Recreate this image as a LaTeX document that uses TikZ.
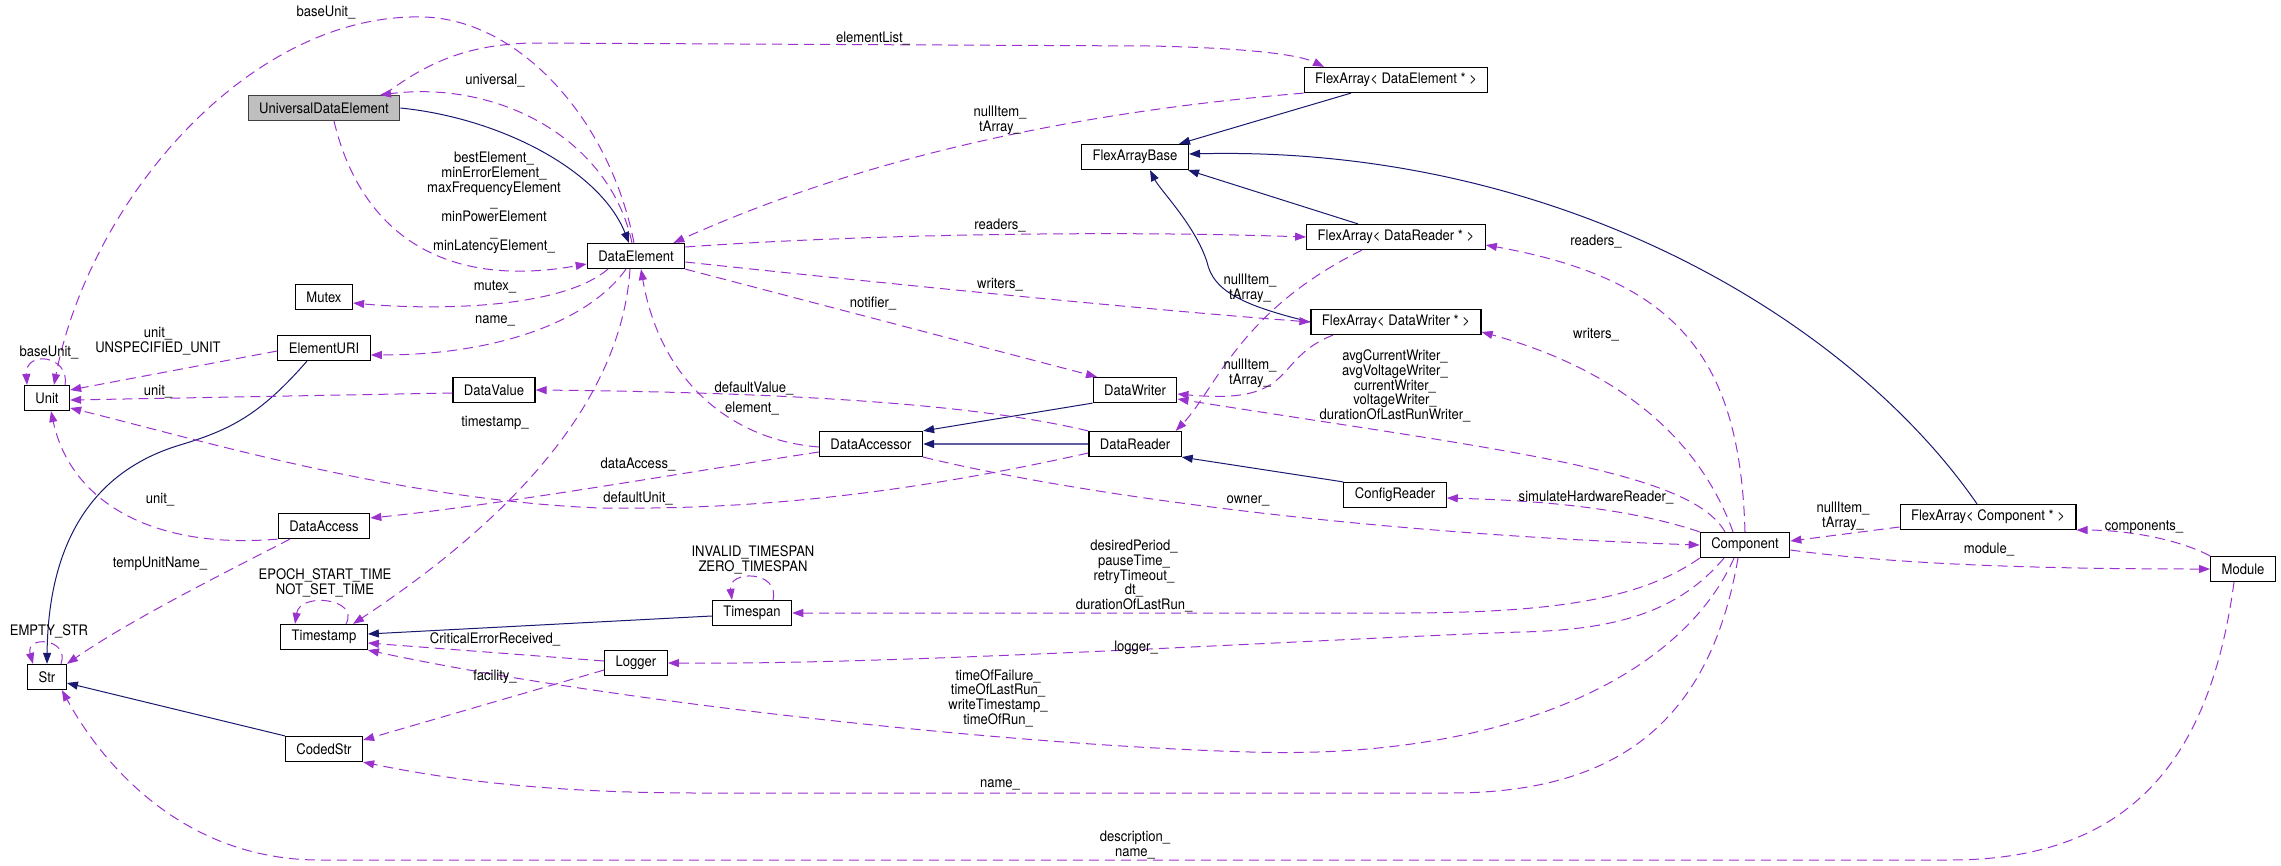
\documentclass[tikz,border=0pt]{standalone}
\usepackage{fontspec}
\setmainfont{TeX Gyre Heros}[FakeStretch=0.9]
\usetikzlibrary{arrows.meta}
\definecolor{navyedge}{HTML}{191970}
\definecolor{paleedge}{HTML}{5F5FA0}
\definecolor{orchidedge}{HTML}{9A32CD}
\definecolor{rootfill}{HTML}{BFBFBF}
\newcommand\dgfont{\fontsize{14.5pt}{14.7pt}\selectfont}
\tikzset{
  cls/.style={draw=black, line width=1.2pt, fill=white, minimum height=25pt, inner xsep=11pt, inner ysep=0pt, font=\dgfont},
  rootcls/.style={cls, fill=rootfill, draw=black!75},
  inherit/.style={draw=navyedge, line width=1pt, -{Triangle[length=11pt,width=8pt,color=navyedge]}},
  uses/.style={draw=orchidedge, line width=1pt, dash pattern=on 10pt off 6pt, -{Triangle[length=11pt,width=8pt]}},
  lbl/.style={font=\dgfont, align=center, inner sep=0pt}
}
\begin{document}
\begin{tikzpicture}[x=1pt, y=-1pt]
  \useasboundingbox (0,0) rectangle (2281,865);
  \node[rootcls] (ude) at (324,108) {UniversalDataElement};
  \node[cls] (dataElem) at (636,256) {DataElement};
  \node[cls] (mutex) at (324,297) {Mutex};
  \node[cls] (elemURI) at (324,348) {ElementURI};
  \node[cls] (unit) at (47,398) {Unit};
  \node[cls] (dataValue) at (494,390) {DataValue};
  \node[cls] (faBase) at (1135,157) {FlexArrayBase};
  \node[cls] (dataWriter) at (1135,390) {DataWriter};
  \node[cls] (dataAccessor) at (871,444) {DataAccessor};
  \node[cls] (dataReader) at (1135,444) {DataReader};
  \node[cls] (faElem) at (1396,80) {FlexArray< DataElement * >};
  \node[cls] (faReader) at (1396,237) {FlexArray< DataReader * >};
  \node[cls] (faWriter) at (1396,322) {FlexArray< DataWriter * >};
  \node[cls] (dataAccess) at (324,526) {DataAccess};
  \node[cls] (timestamp) at (324,637) {Timestamp};
  \node[cls] (str) at (47,677) {Str};
  \node[cls] (codedStr) at (324,749) {CodedStr};
  \node[cls] (logger) at (636,663) {Logger};
  \node[cls] (timespan) at (752,613) {Timespan};
  \node[cls] (configReader) at (1395,495) {ConfigReader};
  \node[cls] (component) at (1745,545) {Component};
  \node[cls] (faComp) at (1988,517) {FlexArray< Component * >};
  \node[cls] (module) at (2243,569) {Module};

  \draw[inherit] (ude.east) .. controls (500,118) and (600,170) .. ([xshift=-7pt]dataElem.north);
  \draw[inherit] ([xshift=-45pt]faElem.south) -- ([xshift=44pt]faBase.north);
  \draw[inherit] ([xshift=-38pt]faReader.north) -- ([xshift=53pt]faBase.south);
  \draw[inherit] (faWriter.west) .. controls (1240,305) and (1213,290) .. (1207,262) .. controls (1195,225) and (1160,190) .. ([xshift=15pt]faBase.south);
  \draw[inherit] ([xshift=-11pt]faComp.north) .. controls (1850,320) and (1560,145) .. ([yshift=3pt]faBase.east);
  \draw[inherit] (dataWriter.south west) -- (dataAccessor.north east);
  \draw[inherit, draw=paleedge, line width=1.5pt] (dataReader.west) -- (dataAccessor.east);
  \draw[inherit] (configReader.north west) -- (dataReader.south east);
  \draw[inherit] ([xshift=-17pt]elemURI.south) .. controls (260,415) and (230,430) .. (180,445) .. controls (80,475) and (48,560) .. (str.north);
  \draw[inherit] (codedStr.north west) -- ([yshift=-6pt]str.east);
  \draw[inherit] ([yshift=-3pt]timespan.west) -- ([yshift=3pt]timestamp.east);

  \draw[uses] ([xshift=-4pt]dataElem.north) .. controls (610,140) and (500,80) .. ([xshift=56pt]ude.north);
  \draw[uses] ([xshift=60pt]ude.north) .. controls (430,60) and (470,45) .. (530,43) -- (1150,46) .. controls (1250,48) and (1300,55) .. ([xshift=-72pt]faElem.north);
  \draw[uses] ([xshift=-2pt]dataElem.north) .. controls (610,120) and (520,20) .. (424,17) .. controls (250,12) and (90,200) .. ([xshift=7pt]unit.north);
  \draw[uses] ([xshift=18pt]unit.north) .. controls (70,355) and (25,350) .. ([xshift=-20pt]unit.north);
  \draw[uses] (faElem.south west) .. controls (1100,110) and (880,150) .. ([xshift=-12pt]dataElem.north east);
  \draw[uses] ([yshift=9pt]dataElem.east) .. controls (850,235) and (1100,230) .. (faReader.west);
  \draw[uses] ([yshift=-6pt]dataElem.east) .. controls (900,285) and (1150,310) .. (faWriter.west);
  \draw[uses] (dataElem.south east) -- ([xshift=-38pt]dataWriter.north);
  \draw[uses] ([xshift=-28pt]dataElem.south) .. controls (560,310) and (430,310) .. ([yshift=-6pt]mutex.east);
  \draw[uses] ([xshift=-10pt]dataElem.south) .. controls (590,320) and (500,355) .. ([yshift=-7pt]elemURI.east);
  \draw[uses] ([xshift=10pt]ude.south) .. controls (360,230) and (440,290) .. ([yshift=-8pt]dataElem.west);
  \draw[uses] ([xshift=-6pt]dataElem.south) .. controls (620,420) and (480,540) .. ([xshift=29pt]timestamp.north);
  \draw[uses] ([yshift=-3pt]dataAccessor.west) .. controls (730,440) and (660,380) .. ([xshift=5pt]dataElem.south);
  \draw[uses] (dataReader.north west) .. controls (1000,410) and (850,393) .. (dataValue.east);
  \draw[uses] ([yshift=-3pt]dataValue.west) -- ([yshift=-2pt]unit.east);
  \draw[uses] ([yshift=-3pt]elemURI.west) -- ([yshift=8pt]unit.east);
  \draw[uses] ([yshift=-8pt]dataAccessor.west) .. controls (700,470) and (500,505) .. ([yshift=8pt]dataAccess.east);
  \draw[uses] ([yshift=-9pt]dataReader.west) .. controls (900,495) and (750,510) .. (600,508) .. controls (400,500) and (200,440) .. ([yshift=-10pt]unit.east);
  \draw[uses] (dataAccess.south west) .. controls (150,550) and (70,500) .. ([xshift=4pt]unit.south);
  \draw[uses] ([xshift=-34pt]dataAccess.south) .. controls (230,570) and (130,620) .. (str.north east);
  \draw[uses] ([xshift=14pt]str.north) .. controls (70,638) and (25,635) .. ([xshift=-14pt]str.north);
  \draw[uses] ([xshift=22pt]timestamp.north) .. controls (360,598) and (300,592) .. ([xshift=-29pt]timestamp.north);
  \draw[uses] ([xshift=21pt]timespan.north) .. controls (780,570) and (728,570) .. ([xshift=-20pt]timespan.north);
  \draw[uses] ([yshift=2pt]logger.west) -- ([yshift=-6pt]timestamp.east);
  \draw[uses] ([yshift=-7pt]logger.west) -- ([yshift=9pt]codedStr.east);
  \draw[uses] (dataAccessor.south east) .. controls (1100,500) and (1400,535) .. (component.west);
  \draw[uses] (component.north west) .. controls (1620,505) and (1520,500) .. ([yshift=-3pt]configReader.east);
  \draw[uses] (component.north) .. controls (1740,360) and (1680,280) .. ([yshift=-8pt]faReader.east);
  \draw[uses] ([xshift=-12pt]component.north) .. controls (1700,440) and (1620,370) .. ([yshift=-10pt]faWriter.east);
  \draw[uses] ([xshift=-20pt]component.north) .. controls (1690,470) and (1500,450) .. ([yshift=-9pt]dataWriter.east);
  \draw[uses] ([xshift=-34pt]faReader.south) .. controls (1240,310) and (1215,390) .. ([xshift=-6pt]dataReader.north east);
  \draw[uses] ([xshift=-63pt]faWriter.south) .. controls (1270,360) and (1300,405) .. ([yshift=-4pt]dataWriter.east);
  \draw[uses] (component.south west) .. controls (1640,600) and (1550,613) .. (1400,613) -- (timespan.east);
  \draw[uses] ([xshift=-21pt]component.south) .. controls (1680,610) and (1620,630) .. (1520,632) .. controls (1300,640) and (900,665) .. (logger.east);
  \draw[uses] ([xshift=-11pt]component.south) .. controls (1680,680) and (1500,760) .. (1250,752) .. controls (1000,745) and (600,700) .. (timestamp.south east);
  \draw[uses] ([xshift=-7pt]component.south) .. controls (1710,720) and (1620,793) .. (1450,793) -- (700,793) .. controls (550,793) and (450,780) .. (codedStr.south east);
  \draw[uses] ([yshift=-10pt]faComp.west) -- ([yshift=4pt]component.east);
  \draw[uses] (module.north west) .. controls (2180,540) and (2130,530) .. (faComp.south east);
  \draw[uses] ([yshift=-5pt]component.east) .. controls (1900,565) and (2050,569) .. (module.west);
  \draw[uses] ([xshift=-9pt]module.south) .. controls (2210,760) and (2130,860) .. (1950,860) -- (320,860) .. controls (180,860) and (100,760) .. ([xshift=-5pt]str.south east);

  \node[lbl] (lUniversal) at (495,80) {universal\_};
  \node[lbl] (lElementList) at (873,38) {elementList\_};
  \node[lbl] (lBaseUnit) at (326,12) {baseUnit\_};
  \node[lbl] (lUnitLoop) at (49,352) {baseUnit\_};
  \node[lbl] (lFaElemNull) at (1000,120) {nullItem\_\\tArray\_};
  \node[lbl] (lReaders) at (1000,225) {readers\_};
  \node[lbl] (lWriters) at (1000,285) {writers\_};
  \node[lbl] (lNotifier) at (873,303) {notifier\_};
  \node[lbl] (lMutex) at (495,287) {mutex\_};
  \node[lbl] (lName) at (495,321) {name\_};
  \node[lbl] (lBest) at (494,203) {bestElement\_\\minErrorElement\_\\maxFrequencyElement\\\_\\minPowerElement\hspace*{28pt}\\\_\\minLatencyElement\_};
  \node[lbl] (lTimestamp) at (495,423) {timestamp\_};
  \node[lbl] (lElement) at (752,408) {element\_};
  \node[lbl] (lDefaultValue) at (754,388) {defaultValue\_};
  \node[lbl] (lUnitValue) at (158,392) {unit\_};
  \node[lbl] (lUnitURI) at (158,341) {unit\_\\UNSPECIFIED\_UNIT};
  \node[lbl] (lDataAccess) at (638,464) {dataAccess\_};
  \node[lbl] (lDefaultUnit) at (638,498) {defaultUnit\_};
  \node[lbl] (lUnitAccess) at (160,500) {unit\_};
  \node[lbl] (lTempUnit) at (160,564) {tempUnitName\_};
  \node[lbl] (lEmptyStr) at (49,631) {EMPTY\_STR};
  \node[lbl] (lEpoch) at (325,583) {EPOCH\_START\_TIME\\NOT\_SET\_TIME};
  \node[lbl] (lTimespanLoop) at (753,560) {INVALID\_TIMESPAN\\ZERO\_TIMESPAN};
  \node[lbl] (lCritical) at (495,639) {CriticalErrorReceived\_};
  \node[lbl] (lFacility) at (495,677) {facility\_};
  \node[lbl] (lOwner) at (1248,501) {owner\_};
  \node[lbl] (lSimulate) at (1596,497) {simulateHardwareReader\_};
  \node[lbl] (lReadersComp) at (1596,241) {readers\_};
  \node[lbl] (lWritersComp) at (1596,335) {writers\_};
  \node[lbl] (lWriterList) at (1395,386) {avgCurrentWriter\_\\avgVoltageWriter\_\\currentWriter\_\\voltageWriter\_\\durationOfLastRunWriter\_};
  \node[lbl] (lFaReaderNull) at (1250,288) {nullItem\_\\tArray\_};
  \node[lbl] (lFaWriterNull) at (1250,373) {nullItem\_\\tArray\_};
  \node[lbl] (lPeriods) at (1134,576) {desiredPeriod\_\\pauseTime\_\\retryTimeout\_\\dt\_\\durationOfLastRun\_};
  \node[lbl] (lLogger) at (1136,648) {logger\_};
  \node[lbl] (lTimes) at (998,698) {timeOfFailure\_\\timeOfLastRun\_\\writeTimestamp\_\\timeOfRun\_};
  \node[lbl] (lNameCoded) at (1000,785) {name\_};
  \node[lbl] (lFaCompNull) at (1843,516) {nullItem\_\\tArray\_};
  \node[lbl] (lComponents) at (2144,527) {components\_};
  \node[lbl] (lModule) at (1989,549) {module\_};
  \node[lbl] (lDescr) at (1135,845) {description\_\\name\_};
\end{tikzpicture}
\end{document}
